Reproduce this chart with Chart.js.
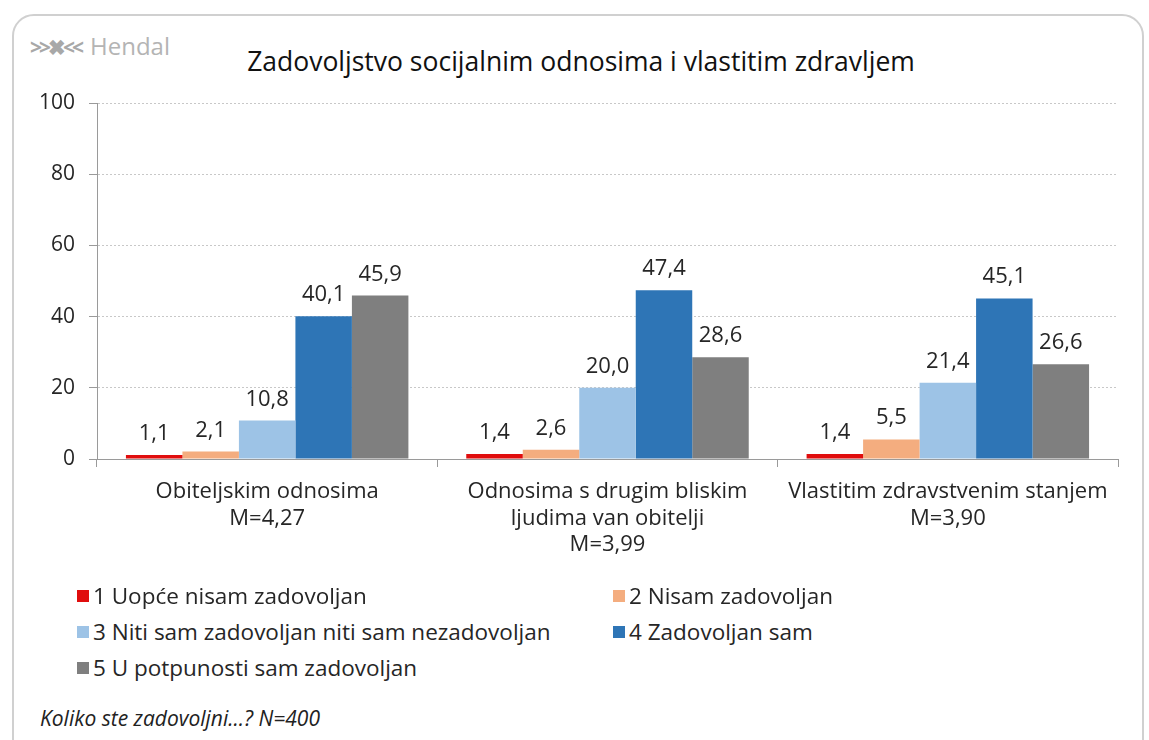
<!DOCTYPE html>
<html lang="hr">
<head>
    <meta charset="UTF-8">
    <title>Zadovoljstvo socijalnim odnosima i vlastitim zdravljem</title>
    <script src="https://cdn.jsdelivr.net/npm/chart.js@4.4.0/dist/chart.umd.min.js"></script>
    <style>
        body {
            margin: 0;
            background: #fff;
            font-family: 'Open Sans', sans-serif;
            color: #262626;
            width: 1149px;
            height: 740px;
            overflow: hidden;
            position: relative;
        }

        .frame {
            position: absolute;
            left: 12px;
            top: 14px;
            width: 1132px;
            height: 760px;
            border: 2px solid #d0d0d0;
            border-radius: 22px;
            box-sizing: border-box;
        }

        .logo {
            position: absolute;
            left: 30px;
            top: 29px;
            font-size: 24px;
            color: #b4b4b4;
        }

        .logo b {
            font-size: 21px;
            letter-spacing: -3px;
            margin-right: 9px;
            color: #a8a8a8;
        }

        h1 {
            position: absolute;
            left: 0;
            top: 43px;
            width: 1162px;
            margin: 0;
            text-align: center;
            font-size: 26.5px;
            font-weight: normal;
            line-height: 36px;
            color: #111;
        }

        #myChart {
            position: absolute;
            left: 0;
            top: 0;
        }

        .legend {
            position: absolute;
            font-size: 22.5px;
            line-height: 36px;
            color: #262626;
        }

        .legend div {
            position: absolute;
            white-space: nowrap;
        }

        .legend span {
            display: inline-block;
            width: 12px;
            height: 12px;
            margin-right: 4px;
            vertical-align: 2px;
        }

        .note {
            position: absolute;
            left: 40px;
            top: 704px;
            font-size: 21px;
            font-style: italic;
            color: #222;
        }
    </style>
</head>
<body>
    <div class="frame"></div>
    <div class="logo"><b>&gt;&gt;&#x2716;&lt;&lt;</b>Hendal</div>
    <h1>Zadovoljstvo socijalnim odnosima i vlastitim zdravljem</h1>
    <canvas id="myChart" width="1149" height="590"></canvas>
    <div class="legend" id="legend"></div>
    <div class="note">Koliko ste zadovoljni...? N=400</div>

    <script>
        // Data
        const categories = [
            ['Obiteljskim odnosima', 'M=4,27'],
            ['Odnosima s drugim bliskim', 'ljudima van obitelji', 'M=3,99'],
            ['Vlastitim zdravstvenim stanjem', 'M=3,90']
        ];
        const seriesNames = [
            '1 Uopće nisam zadovoljan',
            '2 Nisam zadovoljan',
            '3 Niti sam zadovoljan niti sam nezadovoljan',
            '4 Zadovoljan sam',
            '5 U potpunosti sam zadovoljan'
        ];
        const nijeUopce = [1.1, 1.4, 1.4];
        const nijeZadovoljan = [2.1, 2.6, 5.5];
        const niti = [10.8, 20.0, 21.4];
        const zadovoljan = [40.1, 47.4, 45.1];
        const potpuno = [45.9, 28.6, 26.6];
        const yTicks = [0, 20, 40, 60, 80, 100];

        const colors = ['#e00d0d', '#f4ad7f', '#9dc3e6', '#2e75b6', '#7f7f7f'];
        const seriesData = [nijeUopce, nijeZadovoljan, niti, zadovoljan, potpuno];

        // legend in two columns, like the original
        const legendPos = [[77, 578], [613, 578], [77, 614], [613, 614], [77, 650]];
        const legendEl = document.getElementById('legend');
        seriesNames.forEach((name, i) => {
            const item = document.createElement('div');
            item.style.left = legendPos[i][0] + 'px';
            item.style.top = legendPos[i][1] + 'px';
            item.innerHTML = '<span style="background:' + colors[i] + '"></span>' + name;
            legendEl.appendChild(item);
        });

        // value labels above each bar
        const valueLabels = {
            id: 'valueLabels',
            afterDatasetsDraw(chart) {
                const ctx = chart.ctx;
                ctx.save();
                ctx.font = '22px "Open Sans"';
                ctx.fillStyle = '#262626';
                ctx.textAlign = 'center';
                ctx.textBaseline = 'alphabetic';
                chart.data.datasets.forEach((ds, i) => {
                    chart.getDatasetMeta(i).data.forEach((bar, j) => {
                        const txt = ds.data[j].toFixed(1).replace('.', ',');
                        ctx.fillText(txt, bar.x, bar.y - 15);
                    });
                });
                ctx.restore();
            }
        };

        const ctx = document.getElementById('myChart').getContext('2d');
        new Chart(ctx, {
            type: 'bar',
            data: {
                labels: categories,
                datasets: seriesNames.map((name, i) => ({
                    label: name,
                    data: seriesData[i],
                    backgroundColor: colors[i],
                    borderWidth: 0
                }))
            },
            options: {
                responsive: false,
                animation: false,
                devicePixelRatio: 1,
                categoryPercentage: 0.83,
                barPercentage: 1,
                layout: {
                    padding: { top: 103, right: 31, bottom: 0, left: 0 }
                },
                scales: {
                    x: {
                        afterFit: scale => { scale.height = 131; },
                        grid: {
                            offset: true,
                            drawOnChartArea: false,
                            drawTicks: true,
                            tickLength: 8,
                            tickColor: '#9a9a9a'
                        },
                        border: { color: '#9a9a9a', width: 1 },
                        ticks: {
                            color: '#262626',
                            padding: 12,
                            font: { family: 'Open Sans', size: 22, lineHeight: 1.2 }
                        }
                    },
                    y: {
                        min: 0,
                        max: 100,
                        afterFit: scale => { scale.width = 97; },
                        afterBuildTicks: scale => {
                            scale.ticks = yTicks.map(v => ({ value: v }));
                        },
                        grid: {
                            color: '#c8c8c8',
                            tickColor: '#9a9a9a',
                            tickLength: 8,
                            tickBorderDash: []
                        },
                        border: { color: '#9a9a9a', width: 1, dash: [2, 2] },
                        ticks: {
                            color: '#262626',
                            padding: 14,
                            font: { family: 'Open Sans', size: 21 }
                        }
                    }
                },
                plugins: {
                    legend: { display: false },
                    tooltip: { enabled: false }
                }
            },
            plugins: [valueLabels]
        });
    </script>
</body>
</html>
